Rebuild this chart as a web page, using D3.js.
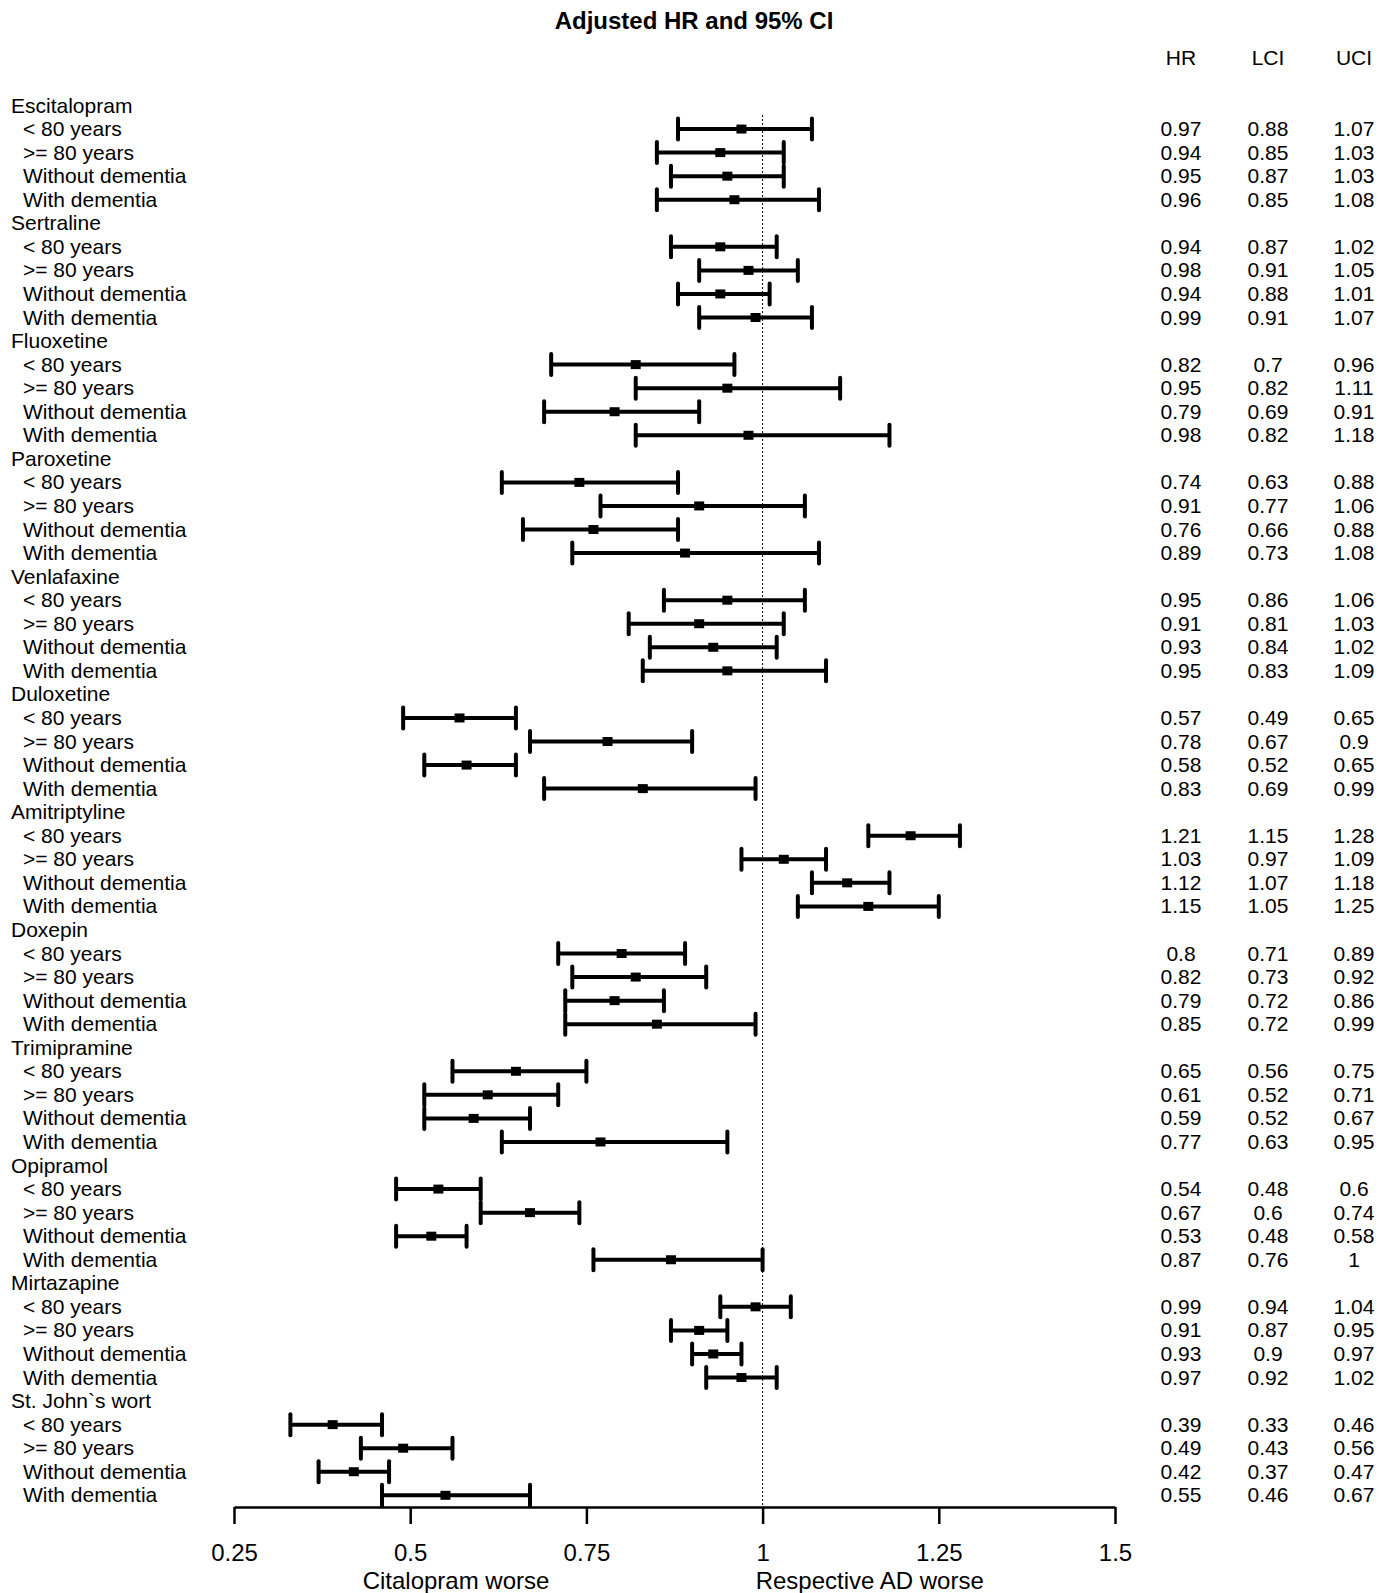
<!DOCTYPE html>
<html><head><meta charset="utf-8">
<script src="https://cdn.jsdelivr.net/npm/d3@7"></script>
<style>body{margin:0;background:#fff}svg{display:block;font-family:"Liberation Sans",Arial,sans-serif}</style>
</head><body><div id="chart"></div>
<script>
const drugs = ["Escitalopram","Sertraline","Fluoxetine","Paroxetine","Venlafaxine","Duloxetine","Amitriptyline","Doxepin","Trimipramine","Opipramol","Mirtazapine","St. John`s wort"];
const subgroups = ["< 80 years", ">= 80 years", "Without dementia", "With dementia"];
const hr = [
  [0.97,0.94,0.95,0.96],[0.94,0.98,0.94,0.99],[0.82,0.95,0.79,0.98],[0.74,0.91,0.76,0.89],
  [0.95,0.91,0.93,0.95],[0.57,0.78,0.58,0.83],[1.21,1.03,1.12,1.15],[0.8,0.82,0.79,0.85],
  [0.65,0.61,0.59,0.77],[0.54,0.67,0.53,0.87],[0.99,0.91,0.93,0.97],[0.39,0.49,0.42,0.55]];
const lci = [
  [0.88,0.85,0.87,0.85],[0.87,0.91,0.88,0.91],[0.7,0.82,0.69,0.82],[0.63,0.77,0.66,0.73],
  [0.86,0.81,0.84,0.83],[0.49,0.67,0.52,0.69],[1.15,0.97,1.07,1.05],[0.71,0.73,0.72,0.72],
  [0.56,0.52,0.52,0.63],[0.48,0.6,0.48,0.76],[0.94,0.87,0.9,0.92],[0.33,0.43,0.37,0.46]];
const uci = [
  [1.07,1.03,1.03,1.08],[1.02,1.05,1.01,1.07],[0.96,1.11,0.91,1.18],[0.88,1.06,0.88,1.08],
  [1.06,1.03,1.02,1.09],[0.65,0.9,0.65,0.99],[1.28,1.09,1.18,1.25],[0.89,0.92,0.86,0.99],
  [0.75,0.71,0.67,0.95],[0.6,0.74,0.58,1],[1.04,0.95,0.97,1.02],[0.46,0.56,0.47,0.67]];
const xTicks = [0.25,0.5,0.75,1,1.25,1.5];
const colHeaders = ["HR","LCI","UCI"];
const title = "Adjusted HR and 95% CI";
const xLabels = [{text:"Citalopram worse", v:0.565},{text:"Respective AD worse", v:1.152}];

const W = 1390, H = 1593;
const svg = d3.select("#chart").append("svg").attr("width",W).attr("height",H);

const rows = [];
drugs.forEach((d,i)=>{
  rows.push({label:d, type:"group"});
  subgroups.forEach((s,j)=>rows.push({label:s, type:"sub", hr:hr[i][j], lci:lci[i][j], uci:uci[i][j]}));
});

const x = d3.scaleLinear().domain([0.25,1.5]).range([234,1115]);
const y = d3.scaleLinear().domain([0, rows.length-1]).range([105.5,1495.3]);
const axisY = 1507;
const FS = 21, FSL = 24;

svg.append("text").attr("x",694).attr("y",28.5).attr("text-anchor","middle")
  .attr("font-size",24).attr("font-weight","bold").text(title);

const colX = [1181,1268,1354];
colHeaders.forEach((h,k)=>svg.append("text").attr("x",colX[k]).attr("y",64.5)
  .attr("text-anchor","middle").attr("font-size",FS).text(h));

svg.append("line").attr("x1",x(1)).attr("x2",x(1)).attr("y1",115).attr("y2",axisY)
  .attr("stroke","#000").attr("stroke-width",1).attr("stroke-dasharray","2,2");

svg.selectAll("text.lab").data(rows).enter().append("text").attr("class","lab")
  .attr("x",d=>d.type==="group"?11:23).attr("y",(d,i)=>y(i)+7)
  .attr("font-size",FS).text(d=>d.label);

const subs = rows.map((d,i)=>({...d,i})).filter(d=>d.type==="sub");
const g = svg.append("g");
subs.forEach(d=>{
  const yy = y(d.i);
  g.append("line").attr("x1",x(d.lci)).attr("x2",x(d.uci)).attr("y1",yy).attr("y2",yy)
    .attr("stroke","#000").attr("stroke-width",4);
  [d.lci,d.uci].forEach(v=>g.append("line").attr("x1",x(v)).attr("x2",x(v))
    .attr("y1",yy-10.5).attr("y2",yy+10.5).attr("stroke","#000").attr("stroke-width",4).attr("stroke-linecap","round"));
  g.append("rect").attr("x",x(d.hr)-5).attr("y",yy-4.5).attr("width",10).attr("height",9).attr("fill","#000");
  [d.hr,d.lci,d.uci].forEach((v,k)=>svg.append("text").attr("x",colX[k]).attr("y",yy+7)
    .attr("text-anchor","middle").attr("font-size",FS).text(String(v)));
});

const ax = svg.append("g").attr("transform",`translate(0,${axisY})`)
  .call(d3.axisBottom(x).tickValues(xTicks).tickFormat(d=>String(d)).tickSize(17).tickSizeOuter(0).tickPadding(20));
ax.select(".domain").attr("stroke-width",2.5);
ax.selectAll(".tick line").attr("stroke-width",2.5);
ax.selectAll(".tick text").attr("font-size",FSL).attr("font-family",'"Liberation Sans",Arial,sans-serif');

xLabels.forEach(l=>svg.append("text").attr("x",x(l.v)).attr("y",1589).attr("text-anchor","middle")
  .attr("font-size",FSL).text(l.text));
</script></body></html>
